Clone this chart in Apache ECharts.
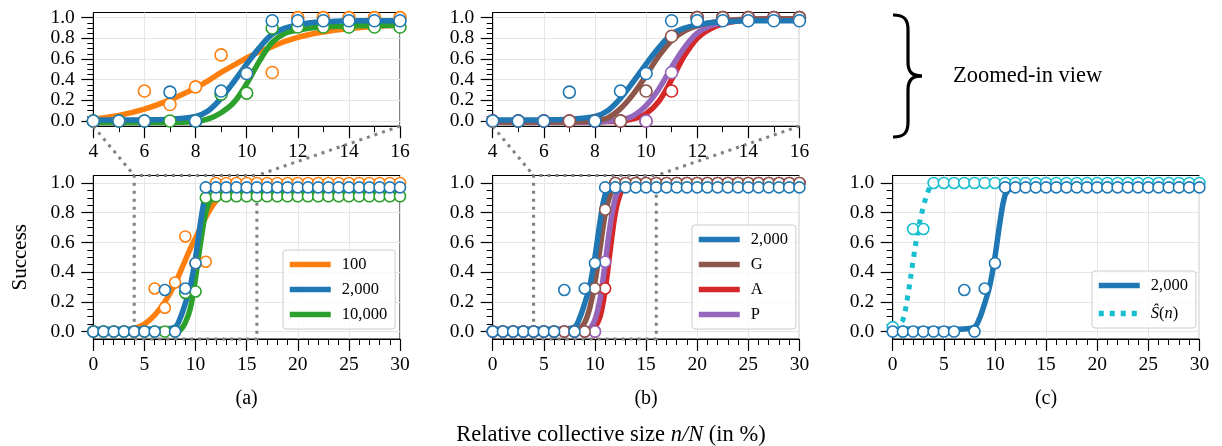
<!DOCTYPE html>
<html><head><meta charset="utf-8">
<script src="https://cdn.jsdelivr.net/npm/echarts@6/dist/echarts.min.js"></script>
<style>html,body{margin:0;padding:0;background:#fff}#c{width:1222px;height:446px}</style>
</head><body><div id="c"></div>
<script>
// ---------- data ----------
const markerX = [0,1,2,3,4,5,6,7,8,9,10,11,12,13,14,15,16,17,18,19,20,21,22,23,24,25,26,27,28,29,30];
const blueObs   = [0,0,0,0,0,0,0,0.28,0,0.29,0.46,0.97,0.97,0.97,0.97,0.97,0.97,0.97,0.97,0.97,0.97,0.97,0.97,0.97,0.97,0.97,0.97,0.97,0.97,0.97,0.97];
const orangeObs = [0,0,0,0,0,0,0.29,0.16,0.33,0.64,0.46,0.47,1,1,1,1,1,1,1,1,1,1,1,1,1,1,1,1,1,1,1];
const greenObs  = [0,0,0,0,0,0,0,0,0,0.26,0.27,0.90,0.91,0.91,0.91,0.91,0.91,0.91,0.91,0.91,0.91,0.91,0.91,0.91,0.91,0.91,0.91,0.91,0.91,0.91,0.91];
const brownObs  = [0,0,0,0,0,0,0,0,0,0,0.29,0.82,1,1,1,1,1,1,1,1,1,1,1,1,1,1,1,1,1,1,1];
const redObs    = [0,0,0,0,0,0,0,0,0,0,0,0.29,1,1,1,1,1,1,1,1,1,1,1,1,1,1,1,1,1,1,1];
const purpleObs = [0,0,0,0,0,0,0,0,0,0,0,0.47,1,1,1,1,1,1,1,1,1,1,1,1,1,1,1,1,1,1,1];
const sHatObs   = [0.03,0,0.69,0.69,1,1,1,1,1,1,1,1,1,1,1,1,1,1,1,1,1,1,1,1,1,1,1,1,1,1,1];

// fitted curves, full view
const fitX      = [0,1,2,3,4,5,6,7,8,8.5,9,9.5,10,10.5,11,11.5,12,12.5,13,13.5,14,15,16,20,25,30];
const orangeFit = [0,0,0,0.005,0.02,0.05,0.11,0.2,0.32,0.4,0.48,0.56,0.63,0.7,0.77,0.83,0.88,0.92,0.95,0.97,0.98,0.99,1,1,1,1];
const blueFit   = [0.015,0.015,0.015,0.015,0.015,0.015,0.015,0.018,0.03,0.09,0.19,0.31,0.5,0.74,0.92,0.96,0.97,0.975,0.975,0.975,0.975,0.975,0.975,0.975,0.975,0.975];
const greenFit  = [0,0,0,0,0,0,0,0,0.002,0.01,0.06,0.16,0.36,0.6,0.8,0.89,0.91,0.92,0.925,0.93,0.93,0.93,0.93,0.935,0.935,0.935];
const brownFit  = [0,0,0,0,0,0,0,0,0.005,0.02,0.06,0.16,0.33,0.56,0.79,0.92,0.97,0.99,1,1,1,1,1,1,1,1];
const redFit    = [0,0,0,0,0,0,0,0,0,0,0,0.005,0.03,0.1,0.28,0.55,0.8,0.93,0.98,1,1,1,1,1,1,1];
const purpleFit = [0,0,0,0,0,0,0,0,0,0,0.005,0.02,0.08,0.22,0.46,0.72,0.9,0.97,0.99,1,1,1,1,1,1,1];
const sHatX     = [0,0.5,1,1.5,2,2.5,3,3.5,4,5,10,15,20,25,30];
const sHatFit   = [0.03,0.04,0.08,0.25,0.48,0.69,0.84,0.95,1,1,1,1,1,1,1];

// fitted curves, zoomed-in view
const zoomX      = [4,5,6,7,8,8.5,9,9.5,10,10.5,11,11.5,12,12.5,13,13.5,14,15,16];
const orangeZoom = [0.02,0.055,0.115,0.205,0.32,0.39,0.47,0.54,0.61,0.67,0.72,0.77,0.81,0.84,0.86,0.88,0.895,0.915,0.93];
const blueZoom   = [0.01,0.01,0.012,0.018,0.045,0.1,0.22,0.38,0.55,0.71,0.84,0.9,0.93,0.95,0.96,0.965,0.97,0.97,0.97];
const greenZoom  = [-0.015,-0.015,-0.015,-0.013,-0.005,0.02,0.08,0.18,0.36,0.58,0.76,0.85,0.88,0.9,0.91,0.915,0.92,0.925,0.925];
const brownZoom  = [-0.01,-0.01,-0.01,-0.008,0.005,0.03,0.12,0.26,0.44,0.63,0.78,0.87,0.92,0.95,0.97,0.98,0.985,0.99,0.99];
const redZoom    = [-0.01,-0.01,-0.01,-0.01,-0.01,-0.005,0,0.02,0.07,0.19,0.4,0.63,0.8,0.89,0.94,0.965,0.98,0.99,0.99];
const purpleZoom = [-0.01,-0.01,-0.01,-0.01,-0.01,0,0.01,0.05,0.15,0.31,0.52,0.71,0.85,0.92,0.95,0.97,0.98,0.99,0.99];

// axes / ticks
const yMin = -0.05, yMax = 1.05;
const yMajorTicks = [0,0.2,0.4,0.6,0.8,1.0];
const yMinorTicks = [0.05,0.1,0.15,0.25,0.3,0.35,0.45,0.5,0.55,0.65,0.7,0.75,0.85,0.9,0.95];
const fullRange = [0,30], zoomRange = [4,16];
const panelLabels = ['(a)','(b)','(c)'];

// ---------- chart ----------
const FONT = 'Liberation Serif';
const GRAY = '#808080';
const C = {orange:'#ff7f0e', blue:'#1f77b4', green:'#2ca02c', red:'#d62728', purple:'#9467bd', brown:'#8c564b', cyan:'#17becf'};
const zip = (xs, ys) => xs.map((x,i)=>[x, ys[i]]);

const gridBase = {show:true, borderColor:'#000', borderWidth:1, backgroundColor:'transparent', containLabel:false, outerBoundsMode:'none'};
const grids = [
  {left:93.3, top:12.5, width:306.7, height:113.7},
  {left:492.7, top:12.5, width:306.7, height:113.7},
  {left:93.3, top:175.5, width:306.7, height:163.5},
  {left:492.7, top:175.5, width:306.7, height:163.5},
  {left:892.7, top:175.5, width:306.7, height:163.5}
].map(g => Object.assign({}, gridBase, g));

const TICK_SIZE = 19.5;
const tickRich = {t:{fontFamily:FONT, fontSize:TICK_SIZE, color:'#000', fontWeight:'normal'}};
function xAx(gi, range, interval, minorSplit, name) {
  return {type:'value', gridIndex:gi, min:range[0], max:range[1], interval, position:'bottom',
    axisLine:{show:true, onZero:false, lineStyle:{color:'#000', width:1}},
    axisTick:{show:true, length:12, lineStyle:{color:'#000', width:1.2}},
    minorTick:{show:true, splitNumber:minorSplit, length:6, lineStyle:{color:'#000', width:1}},
    axisLabel:{margin:16, hideOverlap:false, fontFamily:FONT, fontSize:TICK_SIZE, color:'#000',
      formatter:v => '{t|' + v + '}', rich:tickRich},
    splitLine:{show:true, lineStyle:{color:'#e6e6e6', width:1}},
    name: name || '', nameLocation:'middle', nameGap:50,
    nameTextStyle:{fontFamily:FONT, fontSize:20, color:'#000', fontWeight:'normal'}};
}
function yMajor(gi, name) {
  return {type:'value', gridIndex:gi, min:yMin, max:yMax, position:'left',
    axisLine:{show:true, onZero:false, lineStyle:{color:'#000', width:1}},
    axisTick:{show:true, length:12, customValues:yMajorTicks, lineStyle:{color:'#000', width:1.2}},
    axisLabel:{customValues:yMajorTicks, margin:18.5, fontFamily:FONT, fontSize:TICK_SIZE, color:'#000',
      formatter:v => '{t|' + Number(v).toFixed(1) + '}', rich:tickRich},
    splitLine:{show:true, lineStyle:{color:'#e6e6e6', width:1}},
    name: name || '', nameLocation:'middle', nameRotate:90, nameGap:62,
    nameTextStyle:{fontFamily:FONT, fontSize:21, color:'#000', fontWeight:'normal'}};
}
function yMinor(gi) {
  return {type:'value', gridIndex:gi, min:yMin, max:yMax, position:'left', offset:0,
    axisLine:{show:false}, axisLabel:{show:false}, splitLine:{show:false},
    axisTick:{show:true, length:6, customValues:yMinorTicks, lineStyle:{color:'#000', width:1}}};
}

const xAxes = [
  xAx(0, zoomRange, 2, 2), xAx(1, zoomRange, 2, 2),
  xAx(2, fullRange, 5, 5, panelLabels[0]), xAx(3, fullRange, 5, 5, panelLabels[1]), xAx(4, fullRange, 5, 5, panelLabels[2])
];
const yAxes = [yMajor(0), yMajor(1), yMajor(2,'Success'), yMajor(3), yMajor(4),
               yMinor(0), yMinor(1), yMinor(2), yMinor(3), yMinor(4)];

function lineS(name, gi, xs, ys, color, extra) {
  return Object.assign({type:'line', name, xAxisIndex:gi, yAxisIndex:gi, data:zip(xs,ys),
    symbol:'none', showSymbol:false, smooth:0.35, clip:true,
    lineStyle:{color, width:5.5}, itemStyle:{color}, z:2, silent:true}, extra || {});
}
function dotS(name, gi, ys, color, size) {
  return {type:'scatter', name, xAxisIndex:gi, yAxisIndex:gi, data:zip(markerX, ys),
    symbol:'circle', symbolSize:size, clip:true, z:3, silent:true,
    itemStyle:{color:'#fff', borderColor:color, borderWidth:1.6, opacity:1}};
}
const insetArea = {silent:true, itemStyle:{color:'rgba(0,0,0,0)', borderColor:GRAY, borderWidth:3, borderType:[3,5]},
  data:[[{xAxis:zoomRange[0], yAxis:yMin},{xAxis:zoomRange[1], yAxis:yMax}]]};

const series = [
  // (a) zoom
  lineS('100',0,zoomX,orangeZoom,C.orange), lineS('10,000',0,zoomX,greenZoom,C.green), lineS('2,000',0,zoomX,blueZoom,C.blue),
  dotS('o100',0,orangeObs,C.orange,12), dotS('o10000',0,greenObs,C.green,12), dotS('o2000',0,blueObs,C.blue,12),
  // (b) zoom
  lineS('A',1,zoomX,redZoom,C.red), lineS('P',1,zoomX,purpleZoom,C.purple), lineS('G',1,zoomX,brownZoom,C.brown), lineS('2,000',1,zoomX,blueZoom,C.blue),
  dotS('oA',1,redObs,C.red,12), dotS('oP',1,purpleObs,C.purple,12), dotS('oG',1,brownObs,C.brown,12), dotS('o2000',1,blueObs,C.blue,12),
  // (a) full
  lineS('100',2,fitX,orangeFit,C.orange, {markArea:insetArea}), lineS('10,000',2,fitX,greenFit,C.green), lineS('2,000',2,fitX,blueFit,C.blue),
  dotS('o100',2,orangeObs,C.orange,11), dotS('o10000',2,greenObs,C.green,11), dotS('o2000',2,blueObs,C.blue,11),
  // (b) full
  lineS('A',3,fitX,redFit,C.red, {markArea:insetArea}), lineS('P',3,fitX,purpleFit,C.purple), lineS('G',3,fitX,brownFit,C.brown), lineS('2,000',3,fitX,blueFit,C.blue),
  dotS('oA',3,redObs,C.red,11), dotS('oP',3,purpleObs,C.purple,11), dotS('oG',3,brownObs,C.brown,11), dotS('o2000',3,blueObs,C.blue,11),
  // (c) full
  lineS('2,000',4,fitX,blueFit,C.blue), lineS('S_hat',4,sHatX,sHatFit,C.cyan, {lineStyle:{color:C.cyan, width:5, type:[5,6]}}),
  dotS('oS',4,sHatObs,C.cyan,11), dotS('o2000',4,blueObs,C.blue,11)
];

const legBase = {orient:'vertical', backgroundColor:'rgba(255,255,255,0.8)', borderColor:'#cccccc', borderWidth:1, borderRadius:3,
  padding:[6,8,6,4], itemWidth:41, itemHeight:14, itemGap:8, selectedMode:false,
  lineStyle:{width:5.5}, itemStyle:{opacity:0},
  textStyle:{fontFamily:FONT, fontSize:16.5, color:'#000', padding:[0,0,0,6],
    rich:{i:{fontFamily:FONT, fontSize:16.5, fontStyle:'italic', color:'#000'}, r:{fontFamily:FONT, fontSize:16.5, color:'#000'}}}};
const legends = [
  Object.assign({}, legBase, {data:['100','2,000','10,000'], left:283, top:250}),
  Object.assign({}, legBase, {data:['2,000','G','A','P'], left:692, top:225}),
  Object.assign({}, legBase, {data:['2,000','S_hat'], left:1092, top:271, itemGap:11,
    formatter: n => n === 'S_hat' ? '{i|\u015C}{r|(}{i|n}{r|)}' : n})
];

const chart = echarts.init(document.getElementById('c'), null, {renderer:'canvas'});
chart.setOption({
  animation:false,
  backgroundColor:'#fff',
  textStyle:{fontFamily:FONT},
  grid:grids, xAxis:xAxes, yAxis:yAxes, series, legend:legends,
  title:{text:'{r|Relative collective size }{i|n/N}{r| (in %)}', left:'center', top:419,
    textStyle:{fontWeight:'normal', rich:{
      r:{fontFamily:FONT, fontSize:22.5, color:'#000', fontWeight:'normal'},
      i:{fontFamily:FONT, fontSize:22.5, fontStyle:'italic', color:'#000', fontWeight:'normal'}}}}
});

// connectors between zoomed-in panels and their inset rectangles
const conn = [];
[[0,2],[1,3]].forEach(([top, bot]) => {
  zoomRange.forEach(xv => {
    const p = chart.convertToPixel({gridIndex:top}, [xv, yMin]);
    const q = chart.convertToPixel({gridIndex:bot}, [xv, yMax]);
    conn.push({type:'line', silent:true, z:100, shape:{x1:p[0], y1:p[1], x2:q[0], y2:q[1]},
      style:{stroke:GRAY, lineWidth:3, lineDash:[3,5]}});
  });
});
// curly brace annotation
const braceStyle = {stroke:'#000', fill:null, lineWidth:3.2};
const brace = [
  {type:'bezierCurve', shape:{x1:893,y1:15,cpx1:905,cpy1:15,cpx2:908,cpy2:20,x2:908,y2:30}},
  {type:'line', shape:{x1:908,y1:30,x2:908,y2:62}},
  {type:'bezierCurve', shape:{x1:908,y1:62,cpx1:908,cpy1:72,cpx2:912,cpy2:76,x2:922,y2:76}},
  {type:'bezierCurve', shape:{x1:922,y1:76,cpx1:912,cpy1:76,cpx2:908,cpy2:80,x2:908,y2:90}},
  {type:'line', shape:{x1:908,y1:90,x2:908,y2:122}},
  {type:'bezierCurve', shape:{x1:908,y1:122,cpx1:908,cpy1:132,cpx2:905,cpy2:137,x2:893,y2:137}}
].map(e => Object.assign(e, {silent:true, style:braceStyle}));

chart.setOption({graphic:[
  ...conn, ...brace,
  {type:'text', silent:true, x:953, y:76, style:{text:'Zoomed-in view', fontFamily:FONT, fontSize:22.5, fill:'#000', verticalAlign:'middle'}}
]});
</script></body></html>
